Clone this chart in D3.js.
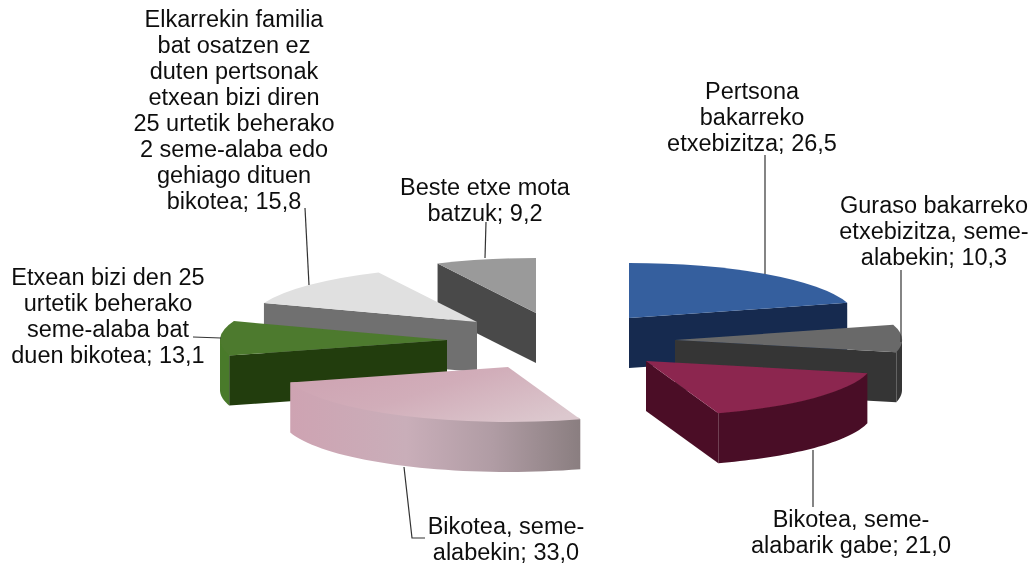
<!DOCTYPE html>
<html><head><meta charset="utf-8">
<script src="https://d3js.org/d3.v7.min.js"></script>
<style>html,body{margin:0;padding:0;background:#fff}svg{display:block}text{font-family:"Liberation Sans",Arial,sans-serif;font-size:23.5px;fill:#111}</style>
</head><body><div id="c"></div>
<script>
// Data
const categories=["Pertsona bakarreko etxebizitza","Guraso bakarreko etxebizitza, seme-alabekin","Bikotea, seme-alabarik gabe","Bikotea, seme-alabekin","Etxean bizi den 25 urtetik beherako seme-alaba bat duen bikotea","Elkarrekin familia bat osatzen ez duten pertsonak etxean bizi diren 25 urtetik beherako 2 seme-alaba edo gehiago dituen bikotea","Beste etxe mota batzuk"];
const values=[26.5,10.3,21.0,33.0,13.1,15.8,9.2];
const valueLabels=["26,5","10,3","21,0","33,0","13,1","15,8","9,2"];
// Layout (per-slice exploded centres, label wrap, leader lines)
const centers=[[629,318],[675,340],[646,361],[508,367],[447,340],[477,322],[536,313]];
const labelLines=[["Pertsona","bakarreko","etxebizitza; 26,5"],["Guraso bakarreko","etxebizitza, seme-","alabekin; 10,3"],["Bikotea, seme-","alabarik gabe; 21,0"],["Bikotea, seme-","alabekin; 33,0"],["Etxean bizi den 25","urtetik beherako","seme-alaba bat","duen bikotea; 13,1"],["Elkarrekin familia","bat osatzen ez","duten pertsonak","etxean bizi diren","25 urtetik beherako","2 seme-alaba edo","gehiago dituen","bikotea; 15,8"],["Beste etxe mota","batzuk; 9,2"]];
const labelPos=[[752,99],[934,213],[851,527],[506,533.5],[108,285],[234,27],[485,195]];
const leaders=[[[765,155],[765,274]],[[901,270],[901,342]],[[813,450],[813,507]],[[404,467],[412,538],[425,538]],[[193,337],[221,338]],[[305,208],[309,285]],[[486,222],[485,258]]];
const topColors=["#365f9e","#696969","#8c2650","url(#pinkTop)","#4d7a2d","#e0e0e0","#9a9a9a"];
const wallColors=["#152a4f","#353535","#4a1026","url(#pinkWall)","#4a7a2c","#6f6f6f","#4a4a4a"];
const edgeColors=["#152a4f","#353535","#4c1027","#c9a6b2","#223d0e","#6f6f6f","#4a4a4a"];
const drawOrder=[6,0,5,1,4,3,2];

const W=1035,H=565,R=227,K=55/227,D=50;
const svg=d3.select("#c").append("svg").attr("width",W).attr("height",H);
const defs=svg.append("defs");
function grad(id,stops,x1,y1,x2,y2){const g=defs.append("linearGradient").attr("id",id).attr("x1",x1).attr("y1",y1).attr("x2",x2).attr("y2",y2);
 stops.forEach(s=>g.append("stop").attr("offset",s[0]).attr("stop-color",s[1]));}
grad("pinkTop",[[0,"#cea3b2"],[0.45,"#d1adb9"],[1,"#dcc8ce"]],0,0.2,1,0.8);
grad("pinkWall",[[0,"#cea3b2"],[0.4,"#c9aeb9"],[0.7,"#b09ca4"],[1,"#8a7e80"]],0,0,1,0);
defs.append("filter").attr("id","soft").attr("x",0).attr("y",0).attr("width",1).attr("height",1).append("feGaussianBlur").attr("stdDeviation",0.45);

const root=svg.append("g").attr("filter","url(#soft)");
root.append("rect").attr("width",W).attr("height",H).attr("fill","#fff");
const pie=d3.pie().sort(null).value(d=>d)(values);
const arc=d3.arc().innerRadius(0).outerRadius(R);
const pt=(a,r=R)=>[r*Math.sin(a),-r*K*Math.cos(a)];
const line=d3.line();
drawOrder.forEach(i=>{
 const p=pie[i],[cx,cy]=centers[i],a0=p.startAngle,a1=p.endAngle;
 const g=root.append("g").attr("transform",`translate(${cx},${cy})`);
 // outer wall: the part of the rim turned towards the viewer (its upper edge runs slightly under the top face so no seam shows)
 const w0=Math.max(a0,Math.PI/2),w1=Math.min(a1,Math.PI*1.5);
 if(w1>w0){
  const ang=d3.range(0,41).map(t=>w0+(w1-w0)*t/40);
  const inner=ang.map(a=>pt(a,R-6));
  const down=ang.slice().reverse().map(a=>{const q=pt(a);return [q[0],q[1]+D];});
  g.append("path").attr("d",line([pt(w0)].concat(inner,[pt(w1)],down))+"Z").attr("fill",wallColors[i]);
 }
 // radial side faces
 [[a0,Math.sin(a0)<0],[a1,Math.sin(a1)>0]].forEach(([a,vis])=>{
  if(!vis)return;
  const e=pt(a);
  g.append("path").attr("d",line([[0,0],e,[e[0],e[1]+D],[0,D]])+"Z").attr("fill",edgeColors[i]);
 });
 // top face
 g.append("g").attr("transform",`scale(1,${K})`).append("path").attr("d",arc(p)).attr("fill",topColors[i]);
});
// leader lines
leaders.forEach(l=>root.append("path").attr("d",line(l)).attr("fill","none").attr("stroke","#333").attr("stroke-width",1.2));
// labels
labelLines.forEach((ls,i)=>{
 const t=root.append("text").attr("text-anchor","middle");
 ls.forEach((s,j)=>t.append("tspan").attr("x",labelPos[i][0]).attr("y",labelPos[i][1]+j*26).text(s));
});
</script></body></html>
